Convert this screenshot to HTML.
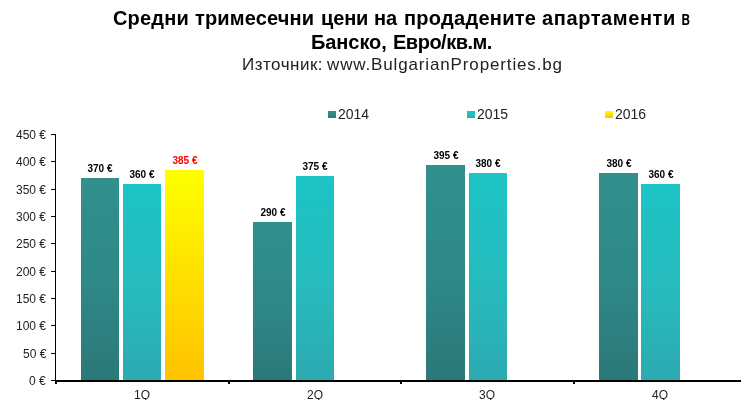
<!DOCTYPE html><html><head><meta charset="utf-8"><style>
*{margin:0;padding:0;box-sizing:border-box}
html,body{width:741px;height:400px;overflow:hidden;background:#fff}
body{position:relative;font-family:"Liberation Sans",sans-serif;color:#000}
.a{position:absolute}
.t{position:absolute;white-space:nowrap;line-height:1}
body{-webkit-font-smoothing:antialiased}
.t,.yl,.dl,.xl{will-change:transform}
.b1{background:linear-gradient(to bottom,#31908c,#2e8886 55%,#2b7878)}
.b2{background:linear-gradient(to bottom,#1cc4c4,#27bbbd 54%,#2caab0)}
.b3{background:linear-gradient(to bottom,#ffff00,#ffc200)}
.ax{background:#000}
.yl{position:absolute;color:#222;right:695px;font-size:12px;line-height:12px;white-space:nowrap;text-align:right}
.dl{position:absolute;font-size:10px;font-weight:bold;line-height:10px;white-space:nowrap;text-align:center;width:60px}
.xl{position:absolute;color:#222;font-size:12px;line-height:12px;white-space:nowrap;text-align:center;width:40px}
</style></head><body>
<div class="t" style="left:112.8px;top:8px;font-size:20px;font-weight:bold;letter-spacing:0.18px">Средни</div>
<div class="t" style="left:194.9px;top:8px;font-size:20px;font-weight:bold;letter-spacing:0.16px">тримесечни</div>
<div class="t" style="left:320.5px;top:8px;font-size:20px;font-weight:bold;letter-spacing:-0.13px">цени</div>
<div class="t" style="left:374.2px;top:8px;font-size:20px;font-weight:bold;letter-spacing:-0.20px">на</div>
<div class="t" style="left:404.2px;top:8px;font-size:20px;font-weight:bold;letter-spacing:0.27px">продадените</div>
<div class="t" style="left:541.6px;top:8px;font-size:20px;font-weight:bold;letter-spacing:0.60px">апартаменти</div>
<div class="t" style="left:680.5px;top:8px;font-size:20px;font-weight:bold;letter-spacing:0.00px;transform:scaleX(0.709);transform-origin:1px 0">в</div>
<div class="t" style="left:311.1px;top:32px;font-size:20px;font-weight:bold;letter-spacing:-0.07px">Банско,</div>
<div class="t" style="left:392.8px;top:32px;font-size:20px;font-weight:bold;letter-spacing:-0.49px">Евро/кв.м.</div>
<div class="t" style="left:242px;top:56px;font-size:17px;color:#222;letter-spacing:0.5px">Източник:</div>
<div class="t" style="left:327px;top:56px;font-size:17px;color:#222;letter-spacing:0.86px">www.BulgarianProperties.bg</div>
<div class="a b1" style="left:328px;top:111px;width:8px;height:7px"></div>
<div class="t" style="left:338px;top:107px;font-size:14px;line-height:14px;color:#222">2014</div>
<div class="a b2" style="left:467px;top:111px;width:8px;height:7px"></div>
<div class="t" style="left:476.7px;top:107px;font-size:14px;line-height:14px;color:#222">2015</div>
<div class="a b3" style="left:605px;top:111px;width:8px;height:7px"></div>
<div class="t" style="left:615px;top:107px;font-size:14px;line-height:14px;color:#222">2016</div>
<div class="a ax" style="left:55px;top:134px;width:1px;height:248px"></div>
<div class="a ax" style="left:51px;top:380px;width:4px;height:1px"></div>
<div class="yl" style="top:375.0px">0 €</div>
<div class="a ax" style="left:51px;top:353px;width:4px;height:1px"></div>
<div class="yl" style="top:347.7px">50 €</div>
<div class="a ax" style="left:51px;top:325px;width:4px;height:1px"></div>
<div class="yl" style="top:320.3px">100 €</div>
<div class="a ax" style="left:51px;top:298px;width:4px;height:1px"></div>
<div class="yl" style="top:293.0px">150 €</div>
<div class="a ax" style="left:51px;top:271px;width:4px;height:1px"></div>
<div class="yl" style="top:265.7px">200 €</div>
<div class="a ax" style="left:51px;top:243px;width:4px;height:1px"></div>
<div class="yl" style="top:238.3px">250 €</div>
<div class="a ax" style="left:51px;top:216px;width:4px;height:1px"></div>
<div class="yl" style="top:211.0px">300 €</div>
<div class="a ax" style="left:51px;top:189px;width:4px;height:1px"></div>
<div class="yl" style="top:183.7px">350 €</div>
<div class="a ax" style="left:51px;top:161px;width:4px;height:1px"></div>
<div class="yl" style="top:156.3px">400 €</div>
<div class="a ax" style="left:51px;top:134px;width:4px;height:1px"></div>
<div class="yl" style="top:129.0px">450 €</div>
<div class="a ax" style="left:55px;top:380px;width:686px;height:2px"></div>
<div class="a ax" style="left:55px;top:380px;width:2px;height:4px"></div>
<div class="a ax" style="left:228px;top:380px;width:2px;height:4px"></div>
<div class="a ax" style="left:400px;top:380px;width:2px;height:4px"></div>
<div class="a ax" style="left:573px;top:380px;width:2px;height:4px"></div>
<div class="a b1" style="left:81px;top:178px;width:38px;height:202px"></div>
<div class="dl" style="left:70.0px;top:164px;color:#000">370 €</div>
<div class="a b2" style="left:123px;top:184px;width:38px;height:196px"></div>
<div class="dl" style="left:112.0px;top:170px;color:#000">360 €</div>
<div class="a b3" style="left:165px;top:170px;width:39px;height:210px"></div>
<div class="dl" style="left:154.5px;top:156px;color:#ff0000">385 €</div>
<div class="a b1" style="left:253px;top:222px;width:39px;height:158px"></div>
<div class="dl" style="left:242.5px;top:208px;color:#000">290 €</div>
<div class="a b2" style="left:296px;top:176px;width:38px;height:204px"></div>
<div class="dl" style="left:285.0px;top:162px;color:#000">375 €</div>
<div class="a b1" style="left:426px;top:165px;width:39px;height:215px"></div>
<div class="dl" style="left:415.5px;top:151px;color:#000">395 €</div>
<div class="a b2" style="left:469px;top:173px;width:38px;height:207px"></div>
<div class="dl" style="left:458.0px;top:159px;color:#000">380 €</div>
<div class="a b1" style="left:599px;top:173px;width:39px;height:207px"></div>
<div class="dl" style="left:588.5px;top:159px;color:#000">380 €</div>
<div class="a b2" style="left:641px;top:184px;width:39px;height:196px"></div>
<div class="dl" style="left:630.5px;top:170px;color:#000">360 €</div>
<div class="xl" style="left:122.0px;top:389px">1Q</div>
<div class="xl" style="left:294.5px;top:389px">2Q</div>
<div class="xl" style="left:467.0px;top:389px">3Q</div>
<div class="xl" style="left:639.5px;top:389px">4Q</div>
</body></html>
